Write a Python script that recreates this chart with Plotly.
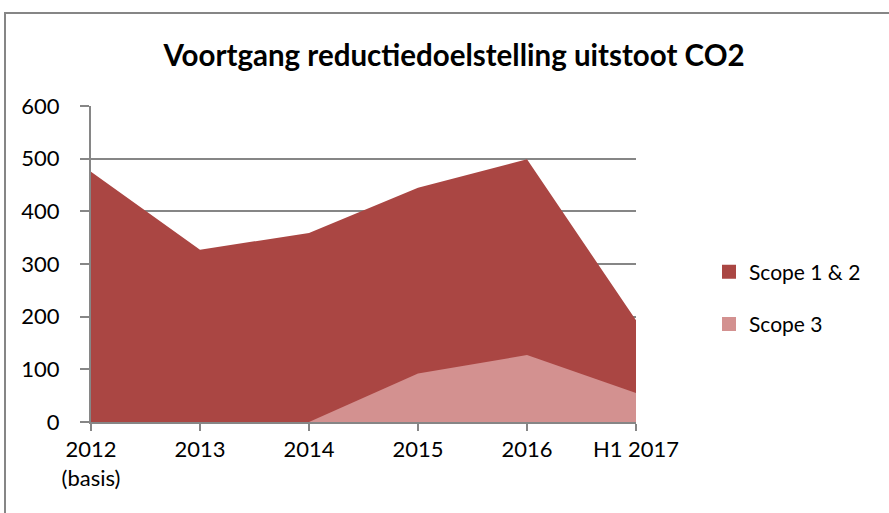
import plotly.graph_objects as go

categories = ["2012<br>(basis)", "2013", "2014", "2015", "2016", "H1 2017"]
scope12 = [475, 327, 359, 445, 499, 193]
scope3 = [0, 0, 0, 92, 127, 55]
y_ticks = [0, 100, 200, 300, 400, 500, 600]

DARK = "#AA4643"
LIGHT = "#D39190"
GRID = "#868686"
FONT = "Lato"

xs = list(range(len(categories)))

fig = go.Figure()
fig.add_trace(go.Scatter(x=xs, y=scope12, mode="none", fill="tozeroy",
                         fillcolor=DARK, showlegend=False, hoverinfo="skip"))
fig.add_trace(go.Scatter(x=xs, y=scope3, mode="none", fill="tozeroy",
                         fillcolor=LIGHT, showlegend=False, hoverinfo="skip"))
# legend entries
fig.add_trace(go.Scatter(x=[None], y=[None], mode="markers", name="Scope 1 & 2",
                         legendgroup="a",
                         marker=dict(symbol="square", size=14, color=DARK)))
fig.add_trace(go.Scatter(x=[None], y=[None], mode="markers", name="Scope 3",
                         legendgroup="b",
                         marker=dict(symbol="square", size=14, color=LIGHT)))

W, H = 889, 513
L, R, T, B = 91, 636, 106, 422
pw, ph = R - L, B - T

def px(x):
    return (x - L) / pw

def py(y):
    return (B - y) / ph

fig.update_layout(
    width=W, height=H,
    margin=dict(l=L, r=W - R, t=T, b=H - B),
    paper_bgcolor="white", plot_bgcolor="white",
    font=dict(family=FONT, size=22, color="black"),
    title=dict(text="<b>Voortgang reductiedoelstelling uitstoot CO2</b>",
               x=454 / W, xref="container", xanchor="center",
               y=1 - 56 / H, yref="container", yanchor="middle",
               font=dict(family=FONT, size=29.5, color="black")),
    xaxis=dict(range=[0, 5], tickvals=xs, ticktext=categories,
               showgrid=False, zeroline=False,
               showline=True, linecolor=GRID, linewidth=2,
               ticks="outside", ticklen=7, tickcolor=GRID, tickwidth=2,
               tickfont=dict(size=22), fixedrange=True),
    yaxis=dict(range=[0, 600], tickvals=y_ticks,
               showgrid=True, gridcolor=GRID, gridwidth=2,
               zeroline=False,
               showline=True, linecolor=GRID, linewidth=2,
               ticks="outside", ticklen=9, tickcolor=GRID, tickwidth=2,
               ticklabelstandoff=16,
               tickfont=dict(size=22), fixedrange=True),
    legend=dict(x=px(709), xanchor="left", y=py(298), yanchor="middle",
                font=dict(size=21), tracegroupgap=22,
                bgcolor="rgba(0,0,0,0)", itemwidth=30),
    showlegend=True,
)

# outer chart frame
fig.add_shape(type="rect", xref="paper", yref="paper",
              x0=px(5), x1=px(W + 20), y0=py(13), y1=py(H + 20),
              line=dict(color=GRID, width=2), fillcolor="rgba(0,0,0,0)",
              layer="below")

fig.write_html("out.html",
               config={"displayModeBar": False},
               post_script="document.body.style.margin='0px';document.body.style.overflow='hidden';")
